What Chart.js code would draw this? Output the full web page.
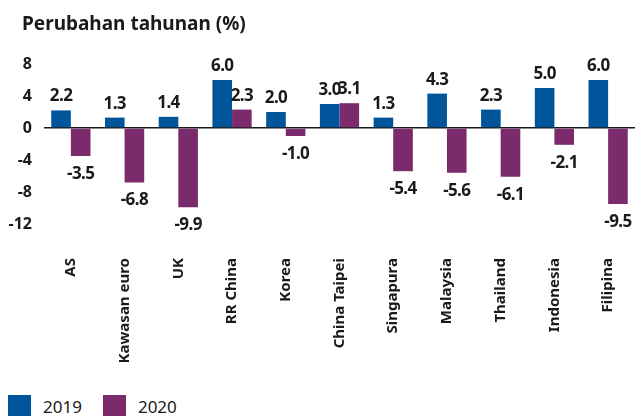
<!DOCTYPE html>
<html>
<head>
<meta charset="utf-8">
<script src="https://cdn.jsdelivr.net/npm/chart.js@4.4.0/dist/chart.umd.min.js"></script>
<style>
  html, body { margin: 0; padding: 0; background: #fff; }
  #wrap { position: relative; width: 635px; height: 416px; overflow: hidden; }
  #growthChart { position: absolute; left: 0; top: 0; }
  .title { position: absolute; left: 22px; top: 11px; line-height: 24px; white-space: nowrap;
    font-family: "Noto Sans", sans-serif; font-size: 19px; font-weight: bold; color: #1a1a1a; }
  .legend { position: absolute; top: 395px; left: 8px; display: flex; align-items: center;
    font-family: "Noto Sans", sans-serif; font-size: 17px; color: #1a1a1a; }
  .legend span.box { display: inline-block; width: 23px; height: 23px; margin-right: 12px; }
  .legend span.lbl { margin-right: 21px; }
</style>
</head>
<body>
<div id="wrap">
  <canvas id="growthChart" width="635" height="362"></canvas>
  <div class="title">Perubahan tahunan (%)</div>
  <div class="legend" id="legend"></div>
</div>
<script>
// Categories and values
const categories = ['AS', 'Kawasan euro', 'UK', 'RR China', 'Korea', 'China Taipei',
  'Singapura', 'Malaysia', 'Thailand', 'Indonesia', 'Filipina'];
const values2019 = [2.2, 1.3, 1.4, 6.0, 2.0, 3.0, 1.3, 4.3, 2.3, 5.0, 6.0];
const values2020 = [-3.5, -6.8, -9.9, 2.3, -1.0, 3.1, -5.4, -5.6, -6.1, -2.1, -9.5];
const seriesLabels = ['2019', '2020'];
const yTicks = [8, 4, 0, -4, -8, -12];

const BLUE = '#00559b';
const PURPLE = '#7b2a6c';
const TEXT = '#1a1a1a';
const FONT = '"Noto Sans", sans-serif';

/**
 * Draws value labels above / below each bar
 */
const valueLabels = {
  id: 'valueLabels',
  afterDatasetsDraw(chart) {
    const ctx = chart.ctx;
    ctx.save();
    ctx.font = `bold 17px ${FONT}`;
    ctx.letterSpacing = '-0.6px';
    ctx.fillStyle = TEXT;
    ctx.textAlign = 'center';
    ctx.textBaseline = 'alphabetic';
    chart.data.datasets.forEach((ds, i) => {
      const meta = chart.getDatasetMeta(i);
      meta.data.forEach((bar, j) => {
        const v = ds.data[j];
        const txt = v.toFixed(1);
        if (v >= 0) {
          ctx.fillText(txt, bar.x, bar.y - 9);
        } else {
          ctx.fillText(txt, bar.x, bar.y + 23);
        }
      });
    });
    ctx.restore();
  }
};

const canvas = document.getElementById('growthChart');
new Chart(canvas, {
  type: 'bar',
  data: {
    labels: categories,
    datasets: [{
      label: seriesLabels[0],
      data: values2019,
      backgroundColor: BLUE,
      categoryPercentage: 0.73,
      barPercentage: 1.0
    }, {
      label: seriesLabels[1],
      data: values2020,
      backgroundColor: PURPLE,
      categoryPercentage: 0.73,
      barPercentage: 1.0
    }]
  },
  options: {
    responsive: false,
    animation: false,
    layout: { padding: { left: 6, right: 0, top: 64, bottom: 0 } },
    plugins: {
      legend: { display: false },
      tooltip: { enabled: false },
      title: { display: false }
    },
    scales: {
      x: {
        grid: { display: false },
        border: { display: false },
        afterFit(axis) {
          axis.height = 138;
          axis.paddingLeft = 0;
          axis.paddingRight = 0;
        },
        ticks: {
          color: TEXT,
          font: { family: FONT, size: 15, weight: 'bold' },
          minRotation: 90,
          maxRotation: 90,
          padding: 26,
          autoSkip: false
        }
      },
      y: {
        min: -12,
        max: 8,
        afterFit(axis) { axis.width = 38; },
        afterBuildTicks(axis) {
          axis.ticks = yTicks.map(v => ({ value: v }));
        },
        border: { display: false },
        grid: {
          drawTicks: false,
          color: c => (c.tick && c.tick.value === 0 ? '#1a1a1a' : 'rgba(0,0,0,0)'),
          lineWidth: c => (c.tick && c.tick.value === 0 ? 1.5 : 0)
        },
        ticks: {
          color: TEXT,
          font: { family: FONT, size: 16, weight: 'bold' },
          padding: 12
        }
      }
    }
  },
  plugins: [valueLabels]
});

// HTML legend
const legend = document.getElementById('legend');
[[BLUE, seriesLabels[0]], [PURPLE, seriesLabels[1]]].forEach(([color, text]) => {
  legend.insertAdjacentHTML('beforeend',
    `<span class="box" style="background:${color}"></span><span class="lbl">${text}</span>`);
});
</script>
</body>
</html>
